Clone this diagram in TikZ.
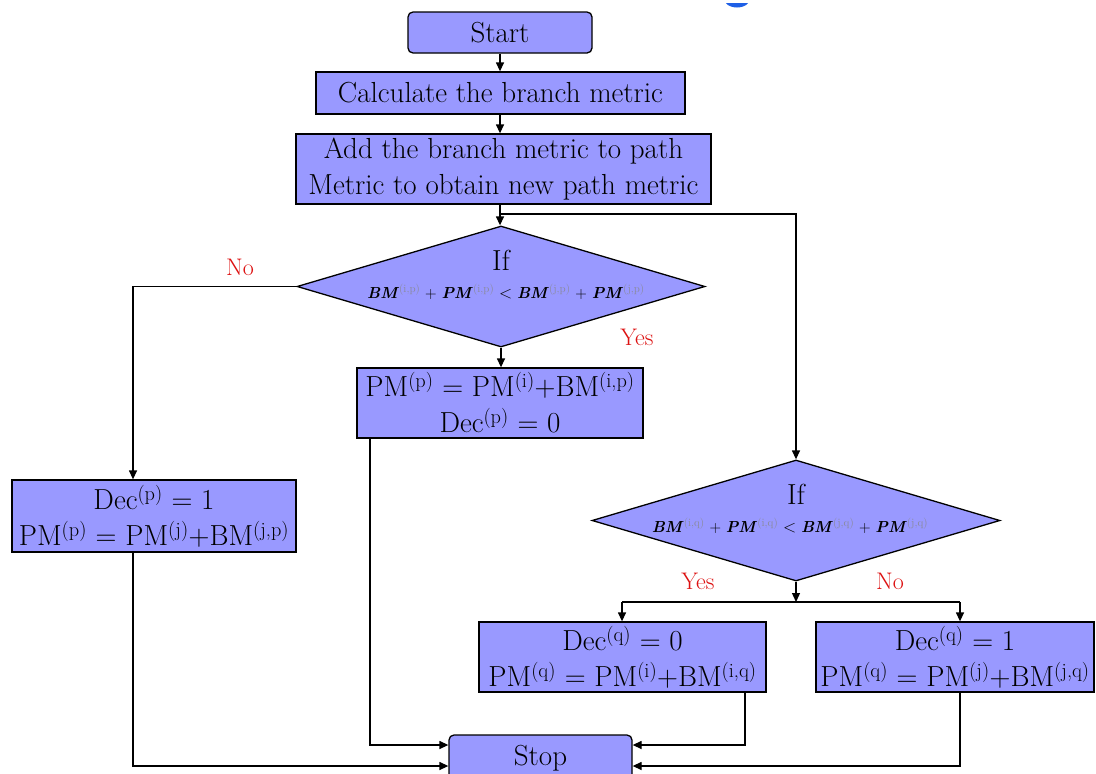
\documentclass[tikz,border=0pt]{standalone}
\usetikzlibrary{shapes.geometric,arrows.meta}
\definecolor{boxfill}{HTML}{9999FF}
\definecolor{labred}{HTML}{DD1111}
\definecolor{supgray}{HTML}{8A8A9A}
\definecolor{dotblue}{HTML}{1E5FE6}
\newcommand{\sps}[1]{\textsuperscript{(#1)}}
\newcommand{\fsup}[1]{\textsuperscript{\normalfont\color{supgray}(#1)}}
\newcommand{\fvar}[1]{\textit{\textbf{#1}}}
\begin{document}
\begin{tikzpicture}[x=1pt,y=-1pt,
  box/.style={draw=black, line width=1.3pt, fill=boxfill, inner sep=0pt,
    align=center, font=\fontsize{29}{36}\selectfont},
  rbox/.style={box, rounded corners=5pt},
  decision/.style={diamond, draw=black, line width=1.3pt, fill=boxfill,
    inner sep=0pt, aspect=3.37, minimum width=408pt, minimum height=121pt},
  iftext/.style={font=\fontsize{29}{34}\selectfont, inner sep=0pt},
  formula/.style={font=\fontsize{16}{19}\selectfont, inner sep=0pt},
  answer/.style={text=labred, font=\fontsize{24}{28}\selectfont, inner sep=0pt},
  link/.style={line width=1.3pt},
  arr/.style={link, -{Triangle[length=9pt,width=8pt]}}
]
\clip (0,0) rectangle (1096,774);
\fill[white] (0,0) rectangle (1096,774);

% small blue mark at the top edge
\fill[dotblue] (726,3) .. controls (730,9) and (744,9) .. (748,3) -- cycle;

% process boxes
\node[rbox, minimum width=184pt, minimum height=41pt] (start) at (500,32.5) {Start};
\node[box, minimum width=369pt, minimum height=42pt] (calc) at (500.5,93) {Calculate the branch metric};
\node[box, minimum width=415pt, minimum height=70pt] (add) at (503.5,169)
  {Add the branch metric to path\\Metric to obtain new path metric};

% first decision
\node[decision] (d1) at (501,286.5) {};
\node[iftext] (d1if) at (501,260) {If};
\node[formula] (d1f) at (506,292)
  {\fvar{BM}\fsup{i,p} + \fvar{PM}\fsup{i,p} $<$ \fvar{BM}\fsup{j,p} + \fvar{PM}\fsup{j,p}};

\node[box, minimum width=286pt, minimum height=70pt] (pm) at (500,403)
  {PM\sps{p} = PM\sps{i}+BM\sps{i,p}\\Dec\sps{p} = 0};
\node[box, minimum width=284pt, minimum height=72pt] (decl) at (154,516)
  {Dec\sps{p} = 1\\PM\sps{p} = PM\sps{j}+BM\sps{j,p}};

% second decision
\node[decision] (d2) at (796,520.5) {};
\node[iftext] (d2if) at (796,494) {If};
\node[formula] (d2f) at (790,526)
  {\fvar{BM}\fsup{i,q} + \fvar{PM}\fsup{i,q} $<$ \fvar{BM}\fsup{j,q} + \fvar{PM}\fsup{j,q}};

\node[box, minimum width=287pt, minimum height=70pt] (dq0) at (622.5,657)
  {Dec\sps{q} = 0\\PM\sps{q} = PM\sps{i}+BM\sps{i,q}};
\node[box, minimum width=278pt, minimum height=70pt] (dq1) at (955,657)
  {Dec\sps{q} = 1\\PM\sps{q} = PM\sps{j}+BM\sps{j,q}};

\node[rbox, minimum width=183pt, minimum height=46pt] (stop) at (540.5,758) {Stop};

% branch labels
\node[answer] (no1) at (240,267) {No};
\node[answer] (yes1) at (637,337) {Yes};
\node[answer] (yes2) at (698,581) {Yes};
\node[answer] (no2) at (890,581) {No};

% junction points
\coordinate (j1) at (500,214);
\coordinate (j2) at (796,602);
\coordinate (j2l) at (622,602);
\coordinate (j2r) at (960,602);

% connectors
\draw[arr] (start.south) -- (start.south |- calc.north);
\draw[arr] (calc.south -| start.south) -- (start.south |- add.north);
\draw[arr] (start.south |- add.south) -- (start.south |- d1.north);
\draw[arr] (j1) -| (d2.north);
\draw[arr] (d1.west) -| ([xshift=-21pt]decl.north);
\draw[arr] (d1.south) -- (d1.south |- pm.north);
\draw[arr] (d2.south) -- (j2);
\draw[link] (j2l) -- (j2r);
\draw[arr] (j2l) -- (j2l |- dq0.north);
\draw[arr] (j2r) -- (j2r |- dq1.north);

\draw[arr] ([xshift=-21pt]decl.south) |- ([yshift=-8pt]stop.west);
\draw[arr] ([xshift=-130pt]pm.south) |- ([yshift=13pt]stop.west);
\draw[arr] ([xshift=122.5pt]dq0.south) |- ([yshift=13pt]stop.east);
\draw[arr] ([xshift=5pt]dq1.south) |- ([yshift=-8pt]stop.east);
\end{tikzpicture}
\end{document}
